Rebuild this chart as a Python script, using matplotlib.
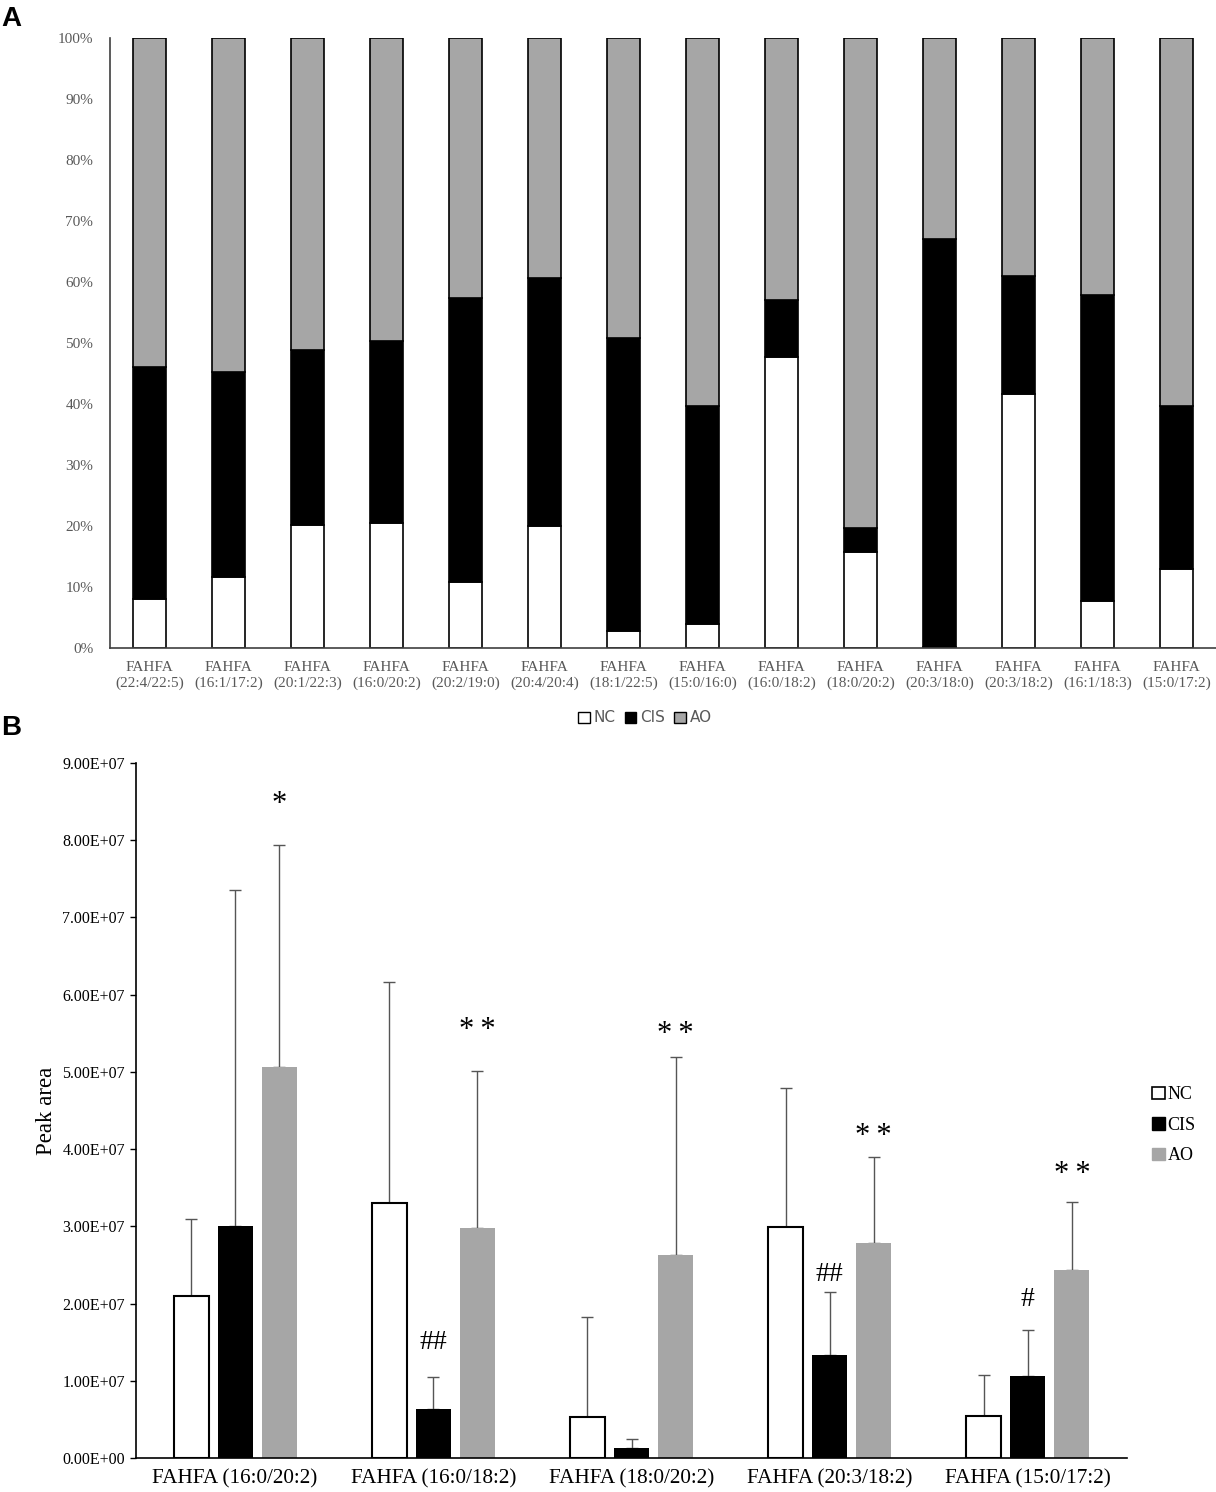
import matplotlib
matplotlib.use("Agg")
import matplotlib.pyplot as plt
import numpy as np
from matplotlib.patches import Patch

# ---------------- Data ----------------
a_labels = ["22:4/22:5", "16:1/17:2", "20:1/22:3", "16:0/20:2", "20:2/19:0",
            "20:4/20:4", "18:1/22:5", "15:0/16:0", "16:0/18:2", "18:0/20:2",
            "20:3/18:0", "20:3/18:2", "16:1/18:3", "15:0/17:2"]
a_nc = [8.0, 11.6, 20.2, 20.5, 10.8, 20.0, 2.8, 3.9, 47.7, 15.7, 0.2, 41.7, 7.7, 13.0]
a_nc_cis_top = [46.1, 45.3, 48.9, 50.4, 57.4, 60.6, 50.8, 39.6, 57.0, 19.7, 67.0, 61.0, 57.9, 39.7]

b_labels = ["FAHFA (16:0/20:2)", "FAHFA (16:0/18:2)", "FAHFA (18:0/20:2)",
            "FAHFA (20:3/18:2)", "FAHFA (15:0/17:2)"]
b_nc = [2.10e7, 3.30e7, 0.53e7, 2.99e7, 0.54e7]
b_nc_err = [1.00e7, 2.87e7, 1.30e7, 1.80e7, 0.54e7]
b_cis = [3.00e7, 0.63e7, 0.13e7, 1.34e7, 1.06e7]
b_cis_err = [4.35e7, 0.42e7, 0.11e7, 0.81e7, 0.60e7]
b_ao = [5.06e7, 2.98e7, 2.63e7, 2.79e7, 2.44e7]
b_ao_err = [2.88e7, 2.03e7, 2.56e7, 1.11e7, 0.88e7]

# annotations: (group, series index, text, y)
b_ann_group = [0, 1, 1, 2, 3, 3, 4, 4]
b_ann_series = [2, 2, 1, 2, 2, 1, 2, 1]
b_ann_text = ["*", "**", "##", "**", "**", "##", "**", "#"]
b_ann_y = [8.46e7, 5.54e7, 1.50e7, 5.48e7, 4.16e7, 2.37e7, 3.67e7, 2.05e7]

GREY = "#a6a6a6"
TXT = "#595959"

fig = plt.figure(figsize=(12.16, 14.92), dpi=100)

# ---------------- Panel A ----------------
axA = fig.add_axes([110/1216, 1-648/1492, 1-110/1216, (648-38)/1492])
x = np.arange(len(a_labels))
nc = np.array(a_nc)
cis = np.array(a_nc_cis_top) - nc
ao = 100 - np.array(a_nc_cis_top)
w = 0.41
axA.bar(x, nc, w, color="white", edgecolor="black", linewidth=1.2)
axA.bar(x, cis, w, bottom=nc, color="black", edgecolor="black", linewidth=1.2)
axA.bar(x, ao, w, bottom=nc + cis, color=GREY, edgecolor="black", linewidth=1.2)
axA.set_xlim(-0.5, len(a_labels) - 0.5)
axA.set_ylim(0, 100)
axA.set_yticks(np.arange(0, 101, 10))
axA.set_yticklabels([f"{v}%" for v in range(0, 101, 10)],
                    fontfamily="Liberation Serif", fontsize=11, color=TXT)
axA.set_xticks(x)
axA.set_xticklabels([f"FAHFA\n({l})" for l in a_labels],
                    fontfamily="Liberation Serif", fontsize=11, color=TXT, linespacing=1.3)
axA.tick_params(axis="y", length=0, pad=12)
axA.tick_params(axis="x", length=0, pad=9)
for s in ["top", "right"]:
    axA.spines[s].set_visible(False)
for s in ["left", "bottom"]:
    axA.spines[s].set_color("#404040")
    axA.spines[s].set_linewidth(1.2)

handlesA = [Patch(facecolor="white", edgecolor="black", label="NC"),
            Patch(facecolor="black", edgecolor="black", label="CIS"),
            Patch(facecolor=GREY, edgecolor="black", label="AO")]
legA = fig.legend(handles=handlesA, loc="center", bbox_to_anchor=(645/1216, 1-718/1492),
                  ncol=3, frameon=False, handlelength=0.75, handleheight=0.75,
                  handletextpad=0.25, columnspacing=0.6,
                  prop={"family": "Liberation Sans Narrow", "size": 11})
for t in legA.get_texts():
    t.set_color(TXT)

# ---------------- Panel B ----------------
axB = fig.add_axes([136/1216, 1-1458/1492, (1127-136)/1216, (1458-763)/1492])
g = np.arange(len(b_labels))
bw = 0.177
step = 0.222
ekw = dict(ecolor="#555555", elinewidth=1.0, capsize=4, capthick=1.0)
series = [(b_nc, b_nc_err, "white", "black", 1.5),
          (b_cis, b_cis_err, "black", "black", 0),
          (b_ao, b_ao_err, GREY, GREY, 0)]
for i, (vals, errs, fc, ec, lw) in enumerate(series):
    pos = g + (i - 1) * step
    axB.bar(pos, vals, bw, color=fc, edgecolor=ec, linewidth=lw, zorder=2)
    axB.errorbar(pos, vals, yerr=[np.zeros(len(errs)), errs], fmt="none", zorder=1, **ekw)

for gi, si, txt, yv in zip(b_ann_group, b_ann_series, b_ann_text, b_ann_y):
    axB.text(gi + (si - 1) * step, yv, "\u2009".join(txt) if "*" in txt else txt,
             ha="center", va="center",
             fontfamily="Liberation Serif", fontsize=22 if "*" in txt else 20,
             color="black")

axB.set_xlim(-0.5, len(b_labels) - 0.5)
axB.set_ylim(0, 9e7)
yt = np.arange(0, 9.01e7, 1e7)
axB.set_yticks(yt)
axB.set_yticklabels([f"{v/1e7:.2f}E+0{7 if v > 0 else 0}" for v in yt],
                    fontfamily="Liberation Serif", fontsize=11.5)
axB.set_xticks(g)
axB.set_xticklabels(b_labels, fontfamily="Liberation Serif", fontsize=15.3)
axB.tick_params(axis="x", length=0, pad=8)
axB.tick_params(axis="y", length=4, width=1, direction="out", pad=4)
axB.set_ylabel("Peak area", fontfamily="Liberation Serif", fontsize=16.5, labelpad=4)
for s in ["top", "right"]:
    axB.spines[s].set_visible(False)
for s in ["left", "bottom"]:
    axB.spines[s].set_linewidth(1.2)

handlesB = [Patch(facecolor="white", edgecolor="black", linewidth=1.2, label="NC"),
            Patch(facecolor="black", edgecolor="black", label="CIS"),
            Patch(facecolor=GREY, edgecolor=GREY, label="AO")]
fig.legend(handles=handlesB, loc="upper left", bbox_to_anchor=(1136/1216, 1-1070/1492),
           ncol=1, frameon=False, handlelength=0.7, handleheight=0.7,
           handletextpad=0.15, labelspacing=0.75,
           prop={"family": "Liberation Serif", "size": 13})

# panel letters
fig.text(1/1216, 1-19/1492, "A", fontfamily="Liberation Sans", fontweight="bold",
         fontsize=20, va="center", ha="left")
fig.text(1/1216, 1-728/1492, "B", fontfamily="Liberation Sans", fontweight="bold",
         fontsize=20, va="center", ha="left")

fig.savefig("out.png", dpi=100)
